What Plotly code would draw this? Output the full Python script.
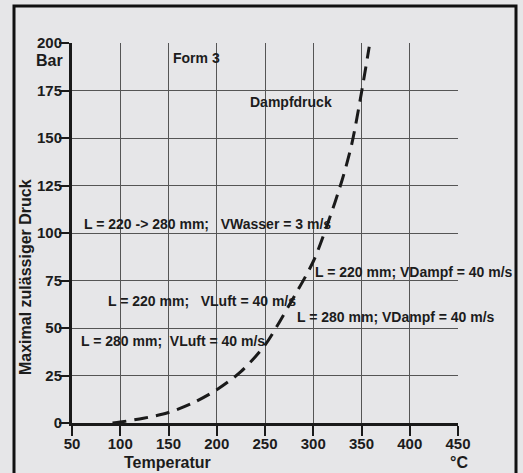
import plotly.graph_objects as go

# Vapour pressure curve (Dampfdruck)
temperature = [92, 100, 124, 150, 175, 200, 225, 250, 275, 300, 315, 330, 340, 350, 358]
pressure = [0, 0.5, 2.5, 5.5, 10.5, 17.5, 27, 41, 62, 85, 105, 128, 147, 174, 198]

x_ticks = [50, 100, 150, 200, 250, 300, 350, 400, 450]
y_ticks = [0, 25, 50, 75, 100, 125, 150, 175, 200]

labels = [
    "Form 3",
    "Dampfdruck",
    "L = 220 -> 280 mm;\u00a0\u00a0 VWasser = 3 m/s",
    "L = 220 mm; VDampf = 40 m/s",
    "L = 220 mm;\u00a0\u00a0 VLuft = 40 m/s",
    "L = 280 mm; VDampf = 40 m/s",
    "L = 280 mm;\u00a0 VLuft = 40 m/s",
]
label_x = [153, 232, 60, 300, 85, 281, 57]
label_y = [192, 169, 105, 79.5, 64, 56, 43]

FONT = "Liberation Sans, Arial, sans-serif"
TXT = "#1c1c1c"
BG = "#e6e6e8"

fig = go.Figure()
fig.add_trace(go.Scatter(
    x=temperature, y=pressure, mode="lines",
    line=dict(color="#1a1a1a", width=3, dash="14px,8px", shape="spline", smoothing=0.8),
    hoverinfo="skip", showlegend=False,
))

for t, xx, yy in zip(labels, label_x, label_y):
    fig.add_annotation(x=xx, y=yy, xref="x", yref="y", text=t, showarrow=False,
                       xanchor="left", yanchor="middle",
                       font=dict(family=FONT, size=14, color=TXT, weight="bold"))

def paper_ann(text, px, py, angle=0, size=16):
    fig.add_annotation(x=(px - 72) / 386, y=(423 - py) / 380, xref="paper", yref="paper",
                       text=text, showarrow=False, xanchor="center", yanchor="middle",
                       textangle=angle,
                       font=dict(family=FONT, size=size, color=TXT, weight="bold"))

paper_ann("Bar", 49, 60)
paper_ann("°C", 459, 462)
paper_ann("Temperatur", 167, 462)
paper_ann("Maximal zulässiger Druck", 25, 277, angle=-90)

# outer frame
fig.add_shape(type="rect", xref="paper", yref="paper",
              x0=(14 - 72) / 386, x1=(516 - 72) / 386,
              y0=(423 - 490) / 380, y1=(423 - 6) / 380,
              line=dict(color="#111111", width=3), fillcolor="rgba(0,0,0,0)", layer="below")

fig.update_xaxes(range=[50, 450], tickvals=x_ticks, ticktext=[str(v) for v in x_ticks],
                 showgrid=True, gridcolor="#555555", gridwidth=1,
                 showline=True, linecolor="#1a1a1a", linewidth=3,
                 ticks="outside", ticklen=10, tickwidth=1.5, tickcolor="#1a1a1a",
                 zeroline=False, ticklabelstandoff=-5,
                 tickfont=dict(family=FONT, size=15, color=TXT, weight="bold"))
fig.update_yaxes(range=[0, 200], tickvals=y_ticks, ticktext=[str(v) for v in y_ticks],
                 showgrid=True, gridcolor="#555555", gridwidth=1,
                 showline=True, linecolor="#1a1a1a", linewidth=3,
                 ticks="outside", ticklen=10, tickwidth=1.5, tickcolor="#1a1a1a",
                 zeroline=False, ticklabelstandoff=-6,
                 tickfont=dict(family=FONT, size=15, color=TXT, weight="bold"))

fig.update_layout(
    width=523, height=473, autosize=False,
    margin=dict(l=72, r=65, t=43, b=50),
    paper_bgcolor=BG, plot_bgcolor=BG,
    showlegend=False,
)

fig.write_html("out.html", config={"displayModeBar": False},
               post_script="document.body.style.margin='0';document.body.style.overflow='hidden';document.body.style.background='%s';" % BG)
